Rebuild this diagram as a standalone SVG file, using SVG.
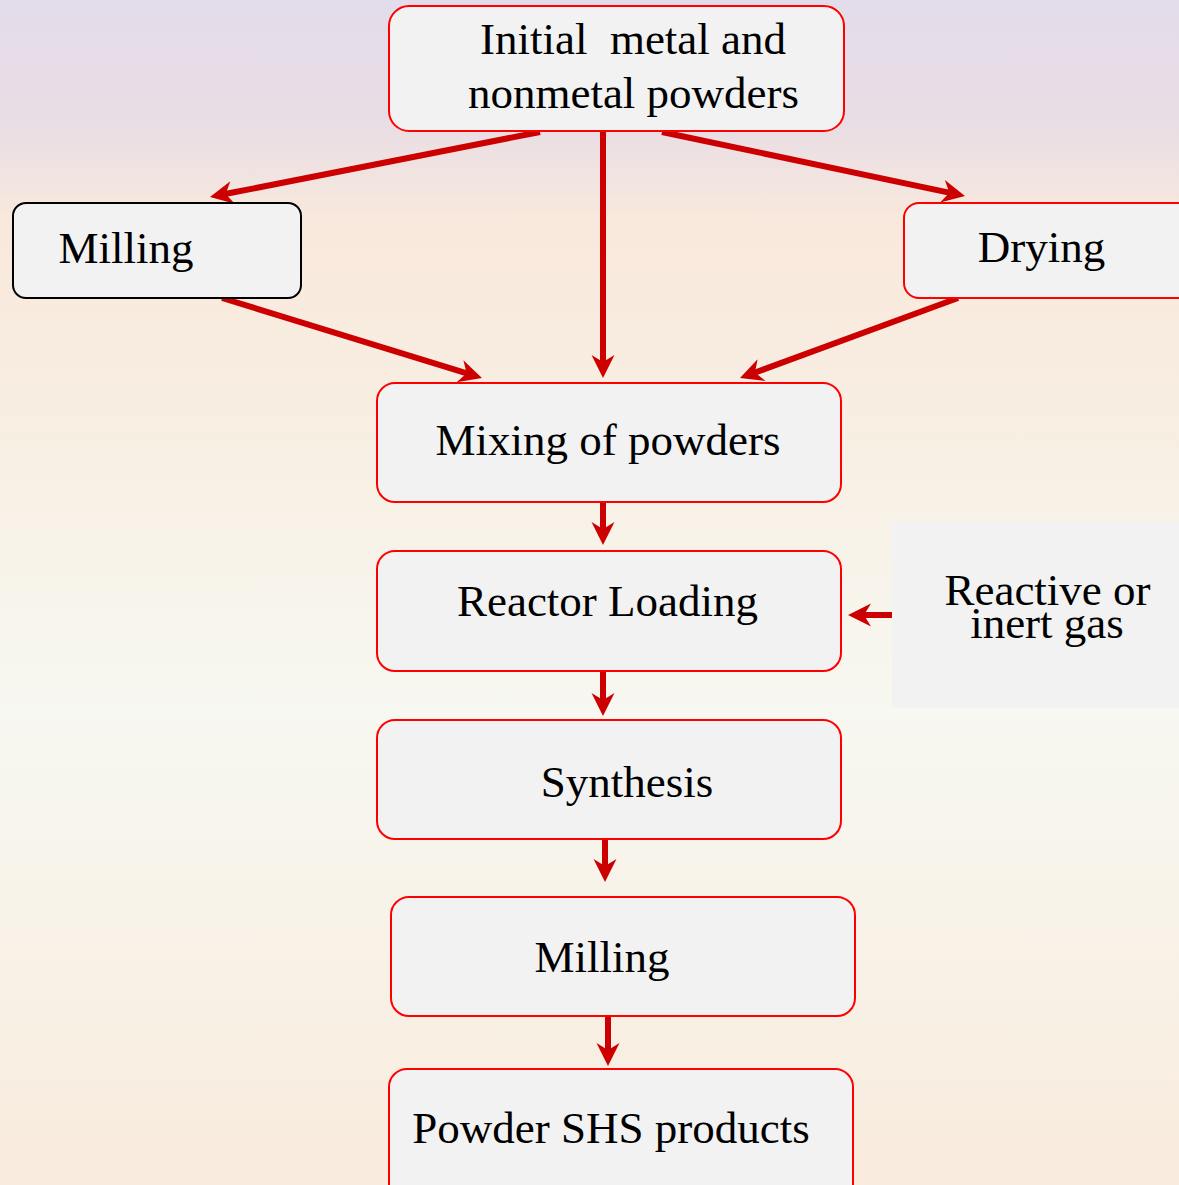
<svg xmlns="http://www.w3.org/2000/svg" width="1179" height="1185" viewBox="0 0 1179 1185">
<defs>
<linearGradient id="bg" x1="0" y1="0" x2="0" y2="1">
<stop offset="0" stop-color="#e3dcea"/>
<stop offset="0.1" stop-color="#e8dde5"/>
<stop offset="0.19" stop-color="#f9e9dc"/>
<stop offset="0.35" stop-color="#f8eee2"/>
<stop offset="0.6" stop-color="#f7f8f1"/>
<stop offset="1" stop-color="#f9ebdd"/>
</linearGradient>
<marker id="ah" markerUnits="userSpaceOnUse" markerWidth="26" markerHeight="26" viewBox="-24 -13 26 26" refX="-14" refY="0" orient="auto">
<path d="M0,0 L-23,-11.5 L-16,0 L-23,11.5 Z" fill="#cc0000"/>
</marker>
</defs>
<style>
.box{fill:#f2f2f2;stroke:#ff0000;stroke-width:2}
.boxk{fill:#f2f2f2;stroke:#000000;stroke-width:2}
.t{font-family:"Liberation Serif","Times New Roman",serif;font-size:45px;fill:#000;text-anchor:middle}
.c{stroke:#cc0000;stroke-width:6;fill:none;marker-end:url(#ah)}
</style>
<rect x="0" y="0" width="1179" height="1185" fill="url(#bg)"/>
<g id="connectors">
<line class="c" x1="540" y1="132" x2="223.7" y2="194.3"/>
<line class="c" x1="603" y1="132" x2="603" y2="364"/>
<line class="c" x1="662" y1="132" x2="951.3" y2="193.1"/>
<line class="c" x1="222" y1="298" x2="468.6" y2="373.9"/>
<line class="c" x1="958" y1="298" x2="753.1" y2="373.2"/>
<line class="c" x1="603" y1="503" x2="603" y2="531"/>
<line class="c" x1="603" y1="671" x2="603" y2="702"/>
<line class="c" x1="605" y1="840" x2="605" y2="868"/>
<line class="c" x1="608" y1="1017" x2="608" y2="1052"/>
<line class="c" x1="892" y1="615" x2="862" y2="615"/>
</g>
<g id="n-initial">
<rect class="box" x="389" y="6" width="455" height="125" rx="20"/>
<text class="t" x="633" y="54" xml:space="preserve">Initial  metal and</text>
<text class="t" x="633.5" y="108">nonmetal powders</text>
</g>
<g id="n-milling1">
<rect class="boxk" x="13" y="203" width="288" height="95" rx="13"/>
<text class="t" x="126" y="263">Milling</text>
</g>
<g id="n-drying">
<rect class="box" x="904" y="203" width="290" height="95" rx="15"/>
<text class="t" x="1041.5" y="262">Drying</text>
</g>
<g id="n-mixing">
<rect class="box" x="377" y="383" width="464" height="119" rx="18"/>
<text class="t" x="608" y="455">Mixing of powders</text>
</g>
<g id="n-reactor">
<rect class="box" x="377" y="551" width="464" height="120" rx="18"/>
<text class="t" x="607.5" y="616">Reactor Loading</text>
</g>
<g id="n-gas">
<rect x="892" y="522" width="300" height="186" fill="#f2f2f2"/>
<text class="t" x="1047.5" y="605">Reactive or</text>
<text class="t" x="1047" y="638">inert gas</text>
</g>
<g id="n-synthesis">
<rect class="box" x="377" y="720" width="464" height="119" rx="18"/>
<text class="t" x="627" y="797">Synthesis</text>
</g>
<g id="n-milling2">
<rect class="box" x="391" y="897" width="464" height="119" rx="18"/>
<text class="t" x="602" y="972">Milling</text>
</g>
<g id="n-products">
<rect class="box" x="389" y="1069" width="464" height="140" rx="18"/>
<text class="t" x="611" y="1143">Powder SHS products</text>
</g>
</svg>
